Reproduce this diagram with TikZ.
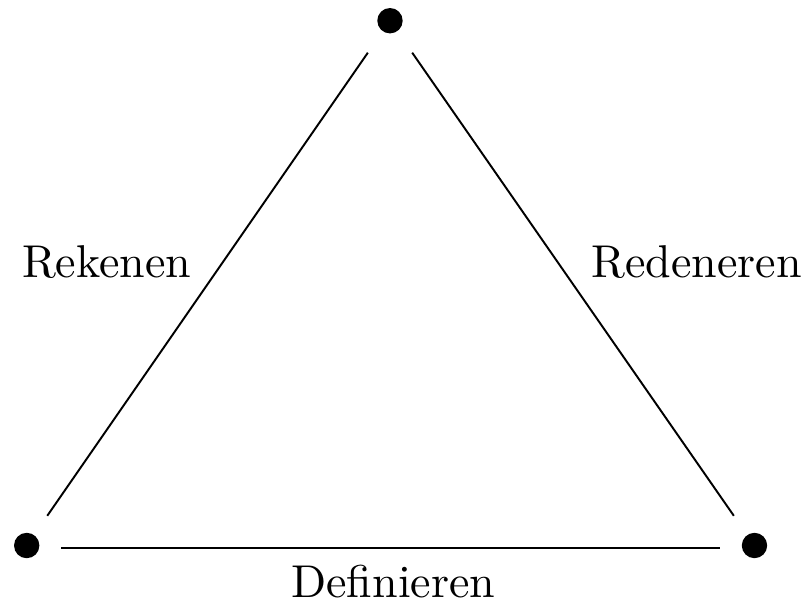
\documentclass[tikz,border=0pt]{standalone}
\begin{document}
\begin{tikzpicture}[x=0.2174pt,y=-0.2174pt,
  dot/.style={circle,fill=black,draw=none,inner sep=0pt,minimum size=5.52pt},
  edge/.style={line width=0.42pt},
  lbl/.style={anchor=base,inner sep=0pt}]
\useasboundingbox (0,0) rectangle (809,603);
\node[dot] (T) at (390,20.7) {};
\node[dot] (L) at (26.7,545.5) {};
\node[dot] (R) at (754.5,545.5) {};
\draw[edge,shorten <=4.9pt,shorten >=5.5pt] (L) -- (T);
\draw[edge,shorten <=4.9pt,shorten >=5.5pt] (R) -- (T);
\draw[edge,shorten <=4.5pt,shorten >=4.5pt] ([yshift=-0.48pt]L.east) -- ([yshift=-0.48pt]R.west);
\node[lbl] (rek) at (106.7,277.7) {Rekenen};
\node[lbl] (red) at (696.7,277.7) {Redeneren};
\node[lbl] (def) at (393.3,597) {Definieren};
\end{tikzpicture}
\end{document}
